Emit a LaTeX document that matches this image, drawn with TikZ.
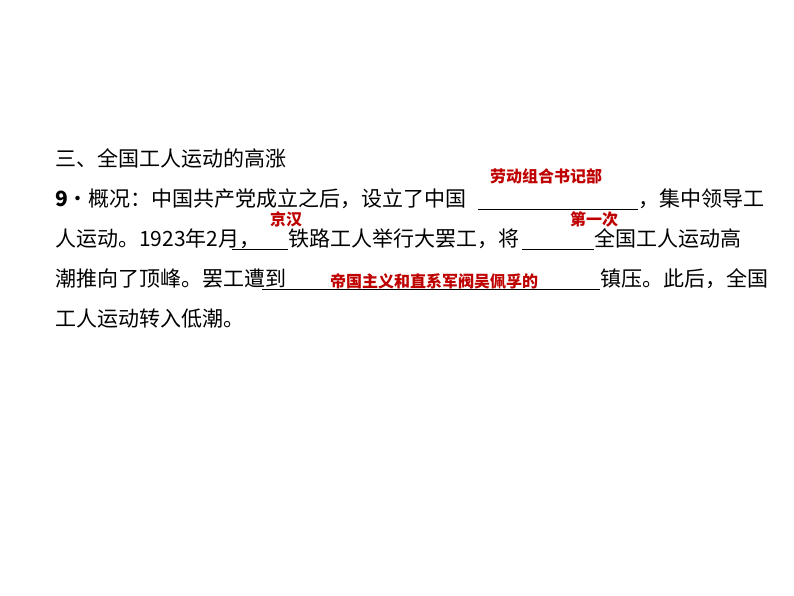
\documentclass[tikz,border=0pt]{standalone}
\usepackage{fontspec}
\setmainfont{Liberation Serif}
\newfontfamily\cjk{Noto Sans CJK SC}
\tikzset{
  txt/.style={anchor=base west, inner sep=0pt, font=\cjk\fontsize{21}{21}\selectfont},
  ans/.style={anchor=base west, inner sep=0pt, text=red!75!black, font=\cjk\bfseries\fontsize{16}{16}\selectfont},
  blank/.style={line width=0.6pt}
}
\begin{document}
\begin{tikzpicture}[x=1pt,y=1pt]
\useasboundingbox[fill=white] (0,0) rectangle (794,596);
% heading
\node[txt] (head) at (55,429) {三、全国工人运动的高涨};
% line 2
\node[txt] (l2a) at (55,389) {\textbf{9}·概况：中国共产党成立之后，设立了中国};
\coordinate (b1s) at (478,387); \coordinate (b1e) at (638,387);
\draw[blank] (b1s) -- (b1e);
\node[txt] (l2b) at (638,389) {，集中领导工};
\node[ans] (a1) at (490,413) {劳动组合书记部};
% line 3
\node[txt] (l3a) at (55,349) {人运动。1923年2月，};
\coordinate (b2s) at (232,347); \coordinate (b2e) at (288,347);
\draw[blank] (b2s) -- (b2e);
\node[txt] (l3b) at (288,349) {铁路工人举行大罢工，将};
\coordinate (b3s) at (522,347); \coordinate (b3e) at (594,347);
\draw[blank] (b3s) -- (b3e);
\node[txt] (l3c) at (594,349) {全国工人运动高};
\node[ans] (a2) at (270,370) {京汉};
\node[ans] (a3) at (570,370) {第一次};
% line 4
\node[txt] (l4a) at (55,309) {潮推向了顶峰。罢工遭到};
\coordinate (b4s) at (262,307); \coordinate (b4e) at (600,307);
\draw[blank] (b4s) -- (b4e);
\node[txt] (l4b) at (600,309) {镇压。此后，全国};
\node[ans] (a4) at (330,308) {帝国主义和直系军阀吴佩孚的};
% line 5
\node[txt] (l5) at (55,269) {工人运动转入低潮。};
\end{tikzpicture}
\end{document}
